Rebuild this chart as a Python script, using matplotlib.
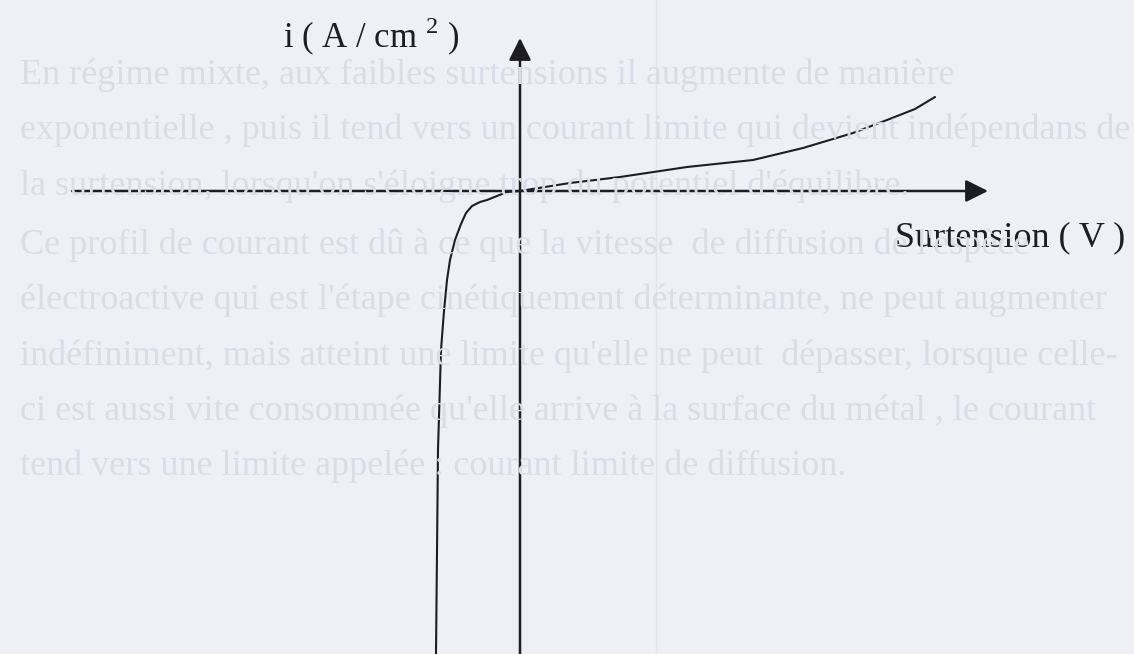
# -*- coding: utf-8 -*-
# Courbe courant / surtension en régime mixte (activation + diffusion)
import numpy as np
import matplotlib
matplotlib.use('Agg')
import matplotlib.pyplot as plt

plt.rcParams['font.family'] = ['Liberation Serif', 'DejaVu Serif']
plt.rcParams['mathtext.fontset'] = 'custom'
plt.rcParams['mathtext.rm'] = 'Liberation Serif'

# ============================================================
# Données (unités arbitraires, origine = potentiel d'équilibre)
# ============================================================
surtension = np.array([-0.84, -0.82, -0.79, -0.76, -0.73, -0.70, -0.65, -0.59, -0.54,
                       -0.48, -0.40, -0.33, -0.23, -0.13, 0.0, 0.50, 1.00, 1.67,
                       2.33, 2.83, 3.33, 3.67, 3.95, 4.15])
courant = np.array([-4.63, -2.59, -1.59, -1.20, -0.89, -0.69, -0.49, -0.33, -0.22,
                    -0.15, -0.11, -0.09, -0.05, -0.01, 0.0, 0.08, 0.14, 0.24,
                    0.31, 0.43, 0.58, 0.71, 0.82, 0.94])

# étendue des deux axes tracés
axe_x = [-4.48, 4.68]
axe_y = [-4.63, 1.53]

label_y = "i ( A / cm $^{2}$ )"
label_x = "Surtension ( V )"

# texte du document visible en transparence
texte_fond = [
    "En régime mixte, aux faibles surtensions il augmente de manière",
    "exponentielle , puis il tend vers un courant limite qui devient indépendans de",
    "la surtension, lorsqu'on s'éloigne trop du potentiel d'équilibre.",
    "Ce profil de courant est dû à ce que la vitesse  de diffusion de l'espèce",
    "électroactive qui est l'étape cinétiquement déterminante, ne peut augmenter",
    "indéfiniment, mais atteint une limite qu'elle ne peut  dépasser, lorsque celle-",
    "ci est aussi vite consommée qu'elle arrive à la surface du métal , le courant",
    "tend vers une limite appelée : courant limite de diffusion.",
]
lignes_y = [75, 130, 186, 245, 300, 356, 411, 466]   # pixels depuis le haut

fond = '#eef0f6'
encre = '#1e1e22'

fig = plt.figure(figsize=(11.34, 6.54), dpi=100, facecolor=fond)
ax = fig.add_axes([0, 0, 1, 1])
ax.set_facecolor(fond)
ax.set_xlim(-5.20, 6.14)
ax.set_ylim(-4.63, 1.91)
ax.axis('off')

# texte en transparence
for txt, py in zip(texte_fond, lignes_y):
    fig.text(0.018, 1 - py / 654, txt, fontsize=26, color='#dadde8',
             va='center', ha='left', zorder=0)
ax.axvline(1.36, color='#e3e2ee', lw=1.0, zorder=0)

# axes avec flèches
ax.annotate('', xy=(axe_x[1], 0), xytext=(axe_x[0], 0),
            arrowprops=dict(arrowstyle='-|>', mutation_scale=34, lw=1.8,
                            color=encre, shrinkA=0, shrinkB=0))
ax.annotate('', xy=(0, axe_y[1]), xytext=(0, axe_y[0]),
            arrowprops=dict(arrowstyle='-|>', mutation_scale=34, lw=1.8,
                            color=encre, shrinkA=0, shrinkB=0))

# courbe i = f(η)
ax.plot(surtension, courant, color=encre, lw=1.5, solid_capstyle='round',
        solid_joinstyle='round')

ax.text(-2.37, 1.43, label_y, fontsize=25, color=encre, ha='left', va='baseline')
ax.text(3.75, -0.55, label_x, fontsize=26, color=encre, ha='left', va='baseline')

fig.savefig('out.png', dpi=100, facecolor=fond)
plt.close(fig)
